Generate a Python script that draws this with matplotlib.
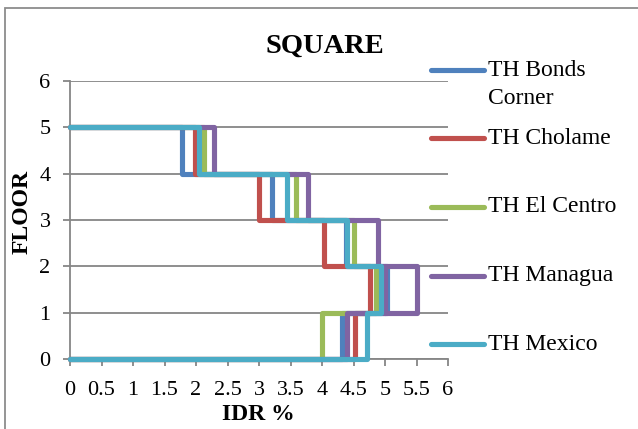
import matplotlib
matplotlib.use("Agg")
import matplotlib.pyplot as plt
from matplotlib.lines import Line2D
from matplotlib.patches import Rectangle

# ---- data ----
title = "SQUARE"
x_label = "IDR %"
y_label = "FLOOR"
series_names = ["TH Bonds\nCorner", "TH Cholame", "TH El Centro", "TH Managua", "TH Mexico"]
colors = ["#4F81BD", "#C0504D", "#9BBB59", "#8064A2", "#4BACC6"]
# story drift (IDR %) for stories 1..5 (between floor k-1 and k)
bonds_corner = [[4.32], [5.03], [4.38], [3.21], [1.77]]
cholame = [[4.52], [4.76], [4.03], [3.00], [1.98]]
el_centro = [[4.00], [4.85], [4.50], [3.59], [2.12]]
managua = [[4.40], [5.51, 5.00, 5.00], [4.89], [3.77], [2.29]]
mexico = [[4.72], [4.93], [4.39], [3.44], [2.04]]
all_series = [bonds_corner, cholame, el_centro, managua, mexico]
x_ticks = [0, 0.5, 1, 1.5, 2, 2.5, 3, 3.5, 4, 4.5, 5, 5.5, 6]
x_tick_labels = ["0", "0.5", "1", "1.5", "2", "2.5", "3", "3.5", "4", "4.5", "5", "5.5", "6"]
y_ticks = [0, 1, 2, 3, 4, 5, 6]


def step_path(stories):
    xs, ys = [0.0], [0.0]
    for k, vals in enumerate(stories):
        lo, hi = k, k + 1
        for j, v in enumerate(vals):
            a, b = (lo, hi) if j % 2 == 0 else (hi, lo)
            xs += [v, v]
            ys += [a, b]
    xs.append(0.0)
    ys.append(len(stories))
    return xs, ys


W, H = 638, 429
fig = plt.figure(figsize=(W / 100, H / 100), dpi=100)
serif = ["Liberation Serif", "DejaVu Serif"]
plt.rcParams["font.family"] = serif

ax = fig.add_axes([70 / W, 1 - 359 / H, 378 / W, 278 / H])
grid_c = "#868686"

for stories, c in zip(all_series, colors):
    xs, ys = step_path(stories)
    ax.plot(xs, ys, color=c, lw=3.7, solid_capstyle="round",
            solid_joinstyle="round", zorder=3, clip_on=False)

ax.set_xlim(0, 6)
ax.set_ylim(0, 6)
ax.set_xticks(x_ticks)
ax.set_xticklabels(x_tick_labels)
ax.set_yticks(y_ticks)
ax.yaxis.grid(True, color=grid_c, lw=1.3, zorder=1)
ax.set_axisbelow(True)
for s in ["top", "right"]:
    ax.spines[s].set_visible(False)
for s in ["left", "bottom"]:
    ax.spines[s].set_color(grid_c)
    ax.spines[s].set_linewidth(1.3)
ax.tick_params(axis="both", direction="out", length=5, width=1.3, color=grid_c,
               labelsize=16)
ax.tick_params(axis="x", pad=11)
ax.tick_params(axis="y", pad=9)

fig.text(325 / W, 1 - 46 / H, title, ha="center", va="center",
         fontsize=20.5, fontweight="bold", family=serif)
fig.text(258 / W, 1 - 414 / H, x_label, ha="center", va="center",
         fontsize=17, fontweight="bold", family=serif)
fig.text(22 / W, 1 - 212 / H, y_label, ha="center", va="center", rotation=90,
         fontsize=17, fontweight="bold", family=serif)

# legend
leg_y = [70, 138, 207, 276, 344]
for name, c, yy in zip(series_names, colors, leg_y):
    fy = 1 - yy / H
    fig.add_artist(Line2D([431 / W, 484 / W], [fy, fy], color=c, lw=3.7,
                          solid_capstyle="round", transform=fig.transFigure))
    for i, line in enumerate(name.split("\n")):
        fig.text(488 / W, 1 - (yy + 28 * i) / H, line, ha="left", va="center",
                 fontsize=17, family=serif)

# chart border
fig.add_artist(Rectangle((5 / W, -0.1), 1.2, 1 - 8 / H + 0.1, transform=fig.transFigure,
                         fill=False, edgecolor="#8c8c8c", lw=1.3))

fig.savefig("out.png", dpi=100)
